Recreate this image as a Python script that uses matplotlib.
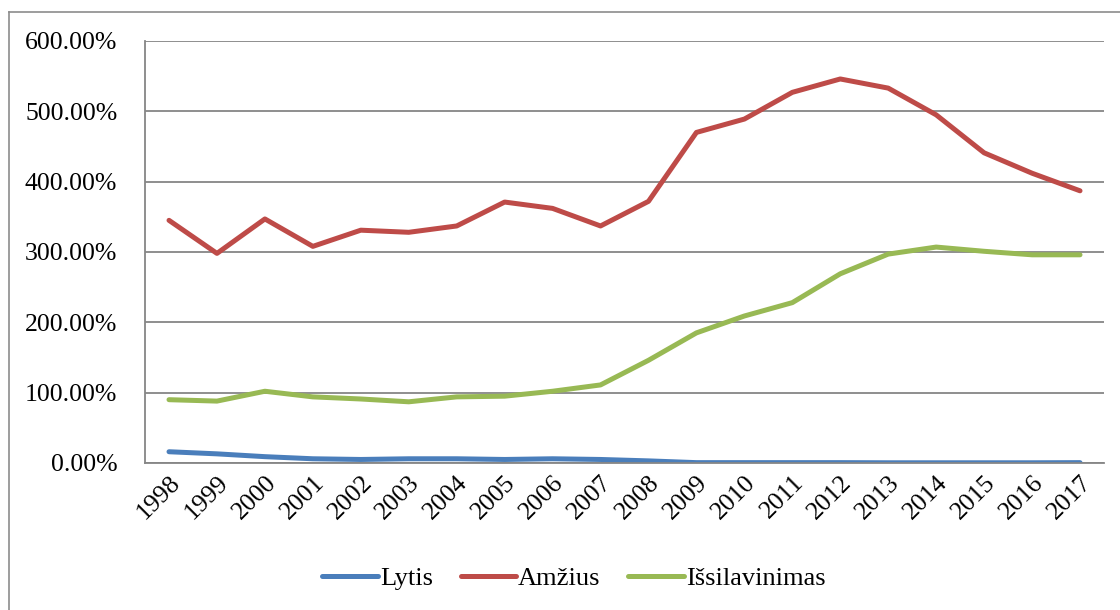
import matplotlib
matplotlib.use("Agg")
import matplotlib.pyplot as plt
from matplotlib.lines import Line2D
from matplotlib.ticker import FuncFormatter

years = [str(y) for y in range(1998, 2018)]

# values in percent
lytis = [16, 13, 9, 6, 5, 6, 6, 5, 6, 5, 3, 0.5, 0.5, 0.5, 0.5, 0.3, 0.3, 0.3, 0.3, 0.5]
amzius = [345, 298, 347, 308, 331, 328, 337, 371, 362, 337,
          372, 470, 489, 527, 546, 533, 495, 441, 412, 387]
issilavinimas = [90, 88, 102, 94, 91, 87, 94, 95, 102, 111,
                 146, 185, 209, 228, 269, 297, 307, 301, 296, 296]

plt.rcParams['font.family'] = ['Liberation Serif', 'DejaVu Serif']

fig = plt.figure(figsize=(11.2, 6.1), dpi=100)
ax = fig.add_axes([0.1295, 0.241, 0.8562, 0.6918])

# outer chart frame (only left and top edges are visible in the original)
frame_col = '#8c8c8c'
fig.lines.append(Line2D([9 / 1120, 9 / 1120], [0, 1 - 12 / 610], transform=fig.transFigure,
                        color=frame_col, lw=1.2))
fig.lines.append(Line2D([9 / 1120, 1], [1 - 12 / 610, 1 - 12 / 610], transform=fig.transFigure,
                        color=frame_col, lw=1.2))

x = range(len(years))
ax.plot(x, lytis, color='#4A7EBB', lw=3.6, label='Lytis', solid_capstyle='round')
ax.plot(x, amzius, color='#BE4B48', lw=3.6, label='Amžius', solid_capstyle='round')
ax.plot(x, issilavinimas, color='#98B954', lw=3.6, label='Išsilavinimas', solid_capstyle='round')

ax.set_xlim(-0.5, len(years) - 0.5)
ax.set_ylim(0, 600)
ax.set_yticks(range(0, 601, 100))
ax.yaxis.set_major_formatter(FuncFormatter(lambda v, p: f'{v:.2f}%'))
ax.grid(axis='y', color='#868686', lw=1.3)
ax.set_axisbelow(True)

ax.set_xticks(list(x))
ax.set_xticklabels(years, rotation=45, ha='right', va='top', rotation_mode='anchor')
ax.tick_params(axis='both', length=0, labelsize=18.5)
ax.tick_params(axis='x', pad=6)
ax.tick_params(axis='y', pad=20)

for s in ['top', 'right']:
    ax.spines[s].set_visible(False)
for s in ['left', 'bottom']:
    ax.spines[s].set_color('#868686')
    ax.spines[s].set_linewidth(1.3)

fig.legend(loc='center', bbox_to_anchor=(0.5125, 0.052), ncol=3, frameon=False,
           fontsize=19, handlelength=2.1, handletextpad=0.08, columnspacing=1.05)

fig.savefig('out.png', dpi=100)
